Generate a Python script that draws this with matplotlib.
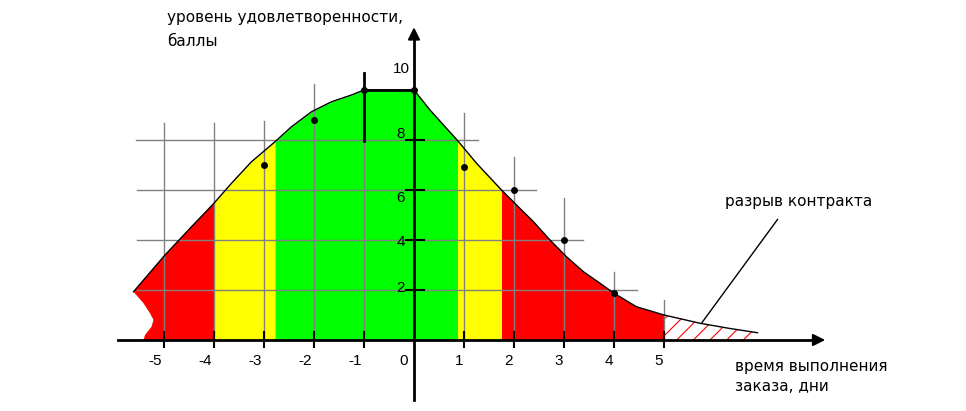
import numpy as np
import matplotlib.pyplot as plt

plt.rcParams['font.family'] = ['Liberation Sans', 'DejaVu Sans']

# curve of satisfaction level
curve_x = np.array([-5.61, -4.98, -4.45, -4.0, -3.65, -3.25, -2.78, -2.45, -2.05, -1.65, -1.25, -1.0, 0.0,
                    0.32, 0.59, 0.87, 1.25, 1.75, 2.05, 2.39, 2.72, 3.05, 3.39, 3.72, 4.0, 4.45,
                    5.0, 5.72, 6.29, 6.87])
curve_y = np.array([1.93, 3.4, 4.53, 5.47, 6.27, 7.13, 7.93, 8.53, 9.13, 9.53, 9.8, 10.0, 10.0,
                    9.2, 8.6, 7.98, 7.07, 6.0, 5.4, 4.73, 4.0, 3.33, 2.73, 2.27, 1.87, 1.33,
                    1.0, 0.67, 0.47, 0.29])

# ragged left edge of the red zone, top to bottom
edge_x = [-5.61, -5.41, -5.28, -5.21, -5.25, -5.38, -5.41]
edge_y = [1.93, 1.47, 1.07, 0.8, 0.53, 0.2, 0.0]

# coloured zones
zone_edges = [-5.61, -4.0, -2.78, 0.87, 1.75, 5.0]
zone_colors = ['#ff0000', '#ffff00', '#00ff00', '#ffff00', '#ff0000']

# measured points
pts_x = [-3, -2, -1, 0, 1, 2, 3, 4]
pts_y = [7.0, 8.8, 10.0, 10.0, 6.9, 6.0, 4.0, 1.9]

# grid lines: (value, start, end)
hgrid = [(2, -5.55, 4.46), (4, -5.53, 3.38), (6, -5.55, 2.44), (8, -5.56, 1.28)]
vgrid = [(-5, 8.68), (-4, 8.68), (-3, 8.76), (-2, 10.24), (-1, 7.96),
         (1, 9.08), (2, 7.32), (3, 5.68), (4, 2.72), (5, 1.6)]

xticks = [-5, -4, -3, -2, -1, 1, 2, 3, 4, 5]
yticks = [2, 4, 6, 8]
ylabels = [2, 4, 6, 8, 10]

fig = plt.figure(figsize=(9.66, 4.11), dpi=100)
ax = fig.add_axes([0, 0, 1, 1])
ax.set_xlim(-8.28, 11.04)
ax.set_ylim(-2.84, 13.6)
ax.axis('off')

# zones under the curve
for (a, b), c in zip(zip(zone_edges[:-1], zone_edges[1:]), zone_colors):
    m = (curve_x >= a) & (curve_x <= b)
    if a == zone_edges[0]:
        px = list(curve_x[m]) + [b] + edge_x[::-1]
        py = list(curve_y[m]) + [0] + edge_y[::-1]
        ax.fill(px, py, color=c, lw=0, zorder=1)
    else:
        ax.fill_between(curve_x[m], 0, curve_y[m], color=c, lw=0, zorder=1)

# hatched contract-break zone
plt.rcParams['hatch.linewidth'] = 0.8
m = curve_x >= zone_edges[-1]
ax.fill_between(curve_x[m], 0, curve_y[m], facecolor='none', edgecolor='#ff0000',
                hatch='//', lw=0, zorder=1)

# grid
for y, x0, x1 in hgrid:
    ax.plot([x0, x1], [y, y], color='#808080', lw=1, zorder=2)
for x, top in vgrid:
    ax.plot([x, x], [0, top], color='#808080', lw=1, zorder=2)

# curve outline
ax.plot(curve_x, curve_y, color='black', lw=1, zorder=3)
ax.plot([-1, 0], [10, 10], color='black', lw=2, zorder=3)
ax.plot([-1, -1], [7.96, 10.68], color='black', lw=2, zorder=3)

# points
ax.plot(pts_x, pts_y, 'o', color='black', ms=4, zorder=4)

# axes
ax.plot([-5.92, 8.0], [0, 0], color='black', lw=2, zorder=5)
ax.plot([0, 0], [-2.4, 12.3], color='black', lw=2, zorder=5)
ax.annotate('', xy=(8.28, 0), xytext=(7.9, 0),
            arrowprops=dict(arrowstyle='-|>', color='black', lw=1.5, mutation_scale=18), zorder=5)
ax.annotate('', xy=(0, 12.62), xytext=(0, 12.0),
            arrowprops=dict(arrowstyle='-|>', color='black', lw=1.5, mutation_scale=18), zorder=5)

for x in xticks:
    ax.plot([x, x], [-0.27, 0.33], color='black', lw=1.5, zorder=5)
    ax.text(x - (0.18 if x < 0 else 0.1), -0.85, str(x), ha='center', va='center', fontsize=11)
ax.text(-0.2, -0.85, '0', ha='center', va='center', fontsize=11)
for y in yticks:
    ax.plot([-0.15, 0.2], [y, y], color='black', lw=1.5, zorder=5)
label_shift = {2: 0.1, 4: -0.1, 6: -0.3, 8: 0.25, 10: 0.85}
for y in ylabels:
    ax.text(-0.26, y + label_shift[y], str(y), ha='center', va='center', fontsize=11)

# labels
txt = dict(ha='left', va='center', fontsize=11, family='DejaVu Sans')
ax.text(-4.94, 12.9, 'уровень удовлетворенности,', **txt)
ax.text(-4.94, 11.95, 'баллы', **txt)
ax.text(6.22, 5.55, 'разрыв контракта', **txt)
ax.text(6.42, -1.05, 'время выполнения', **txt)
ax.text(6.42, -1.85, 'заказа, дни', **txt)
ax.plot([5.75, 7.27], [0.67, 4.82], color='black', lw=1, zorder=3)

fig.savefig('out.png', dpi=100)
